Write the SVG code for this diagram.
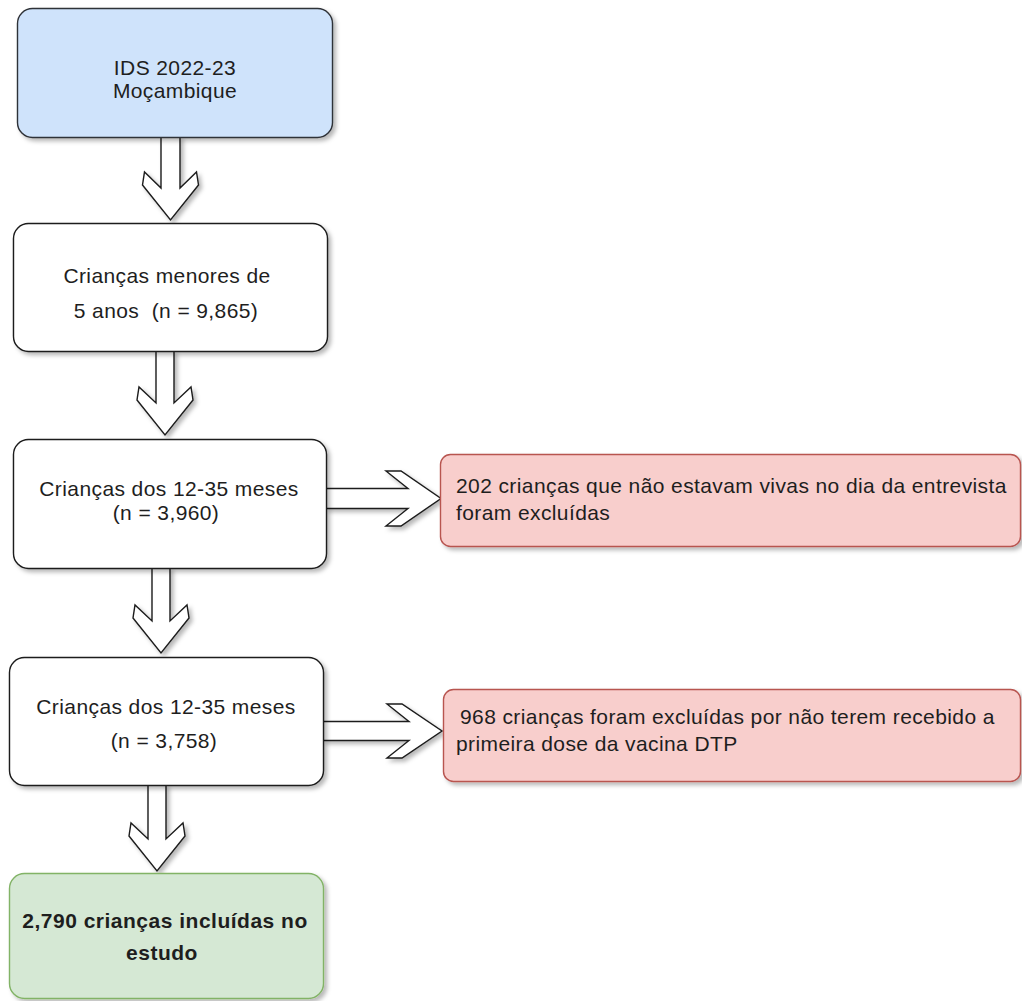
<svg xmlns="http://www.w3.org/2000/svg" width="1022" height="1001" viewBox="0 0 1022 1001">
  <defs>
    <filter id="sh" x="-10%" y="-10%" width="130%" height="140%">
      <feDropShadow dx="3" dy="3" stdDeviation="2" flood-color="#000" flood-opacity="0.28"/>
    </filter>
  </defs>
  <style>
    .box { stroke-width: 1.4; filter: url(#sh); }
    .white { fill: #ffffff; stroke: #1a1a1a; }
    .blue { fill: #cfe3fb; stroke: #2f3237; }
    .red { fill: #f8cecc; stroke: #b85450; }
    .green { fill: #d5e8d4; stroke: #82b366; }
    .arrow { fill: #ffffff; stroke: #1a1a1a; stroke-width: 1.4; stroke-linejoin: miter; filter: url(#sh); }
    text { font-family: "Liberation Sans", Arial, sans-serif; font-size: 21px; fill: #1e1e1e; letter-spacing: 0.4px; }
    .c { text-anchor: middle; }
    .b { font-weight: bold; letter-spacing: 0.5px; }
  </style>

  <g id="connectors">
    <path class="arrow" d="M161,137 V188 L144.5,172 L142.5,185 L170.5,220 L198.5,185 L196.5,172 L180,188 V137 Z"/>
    <path class="arrow" d="M156,351 V403 L139,387 L137,400 L165,435 L193,400 L191,387 L174,403 V351 Z"/>
    <path class="arrow" d="M152,568 V621 L135,605 L133,618 L161,653 L189,618 L187,605 L170,621 V568 Z"/>
    <path class="arrow" d="M148,785 V839 L131,823 L129,836 L157,871 L185,836 L183,823 L166,839 V785 Z"/>
    <path class="arrow" d="M326,488.5 H408 L386,471 H401 L441,498.5 L401,526 H386 L408,508.5 H326 Z"/>
    <path class="arrow" d="M323,721.5 H409 L387,704 H402 L442,731 L402,758 H387 L409,740.5 H323 Z"/>
  </g>

  <g id="node-ids">
    <rect class="box blue" x="17.5" y="8.5" width="315" height="129" rx="15" ry="15"/>
    <text class="c" x="175" y="75">IDS 2022-23</text>
    <text class="c" x="175" y="98">Moçambique</text>
  </g>

  <g id="node-menores5">
    <rect class="box white" x="13.5" y="223.5" width="314" height="128" rx="15" ry="15"/>
    <text class="c" x="167" y="283">Crianças menores de</text>
    <text class="c" x="166" y="318" xml:space="preserve">5 anos  (n = 9,865)</text>
  </g>

  <g id="node-1235a">
    <rect class="box white" x="13.5" y="439.5" width="313" height="129" rx="15" ry="15"/>
    <text class="c" x="169" y="496">Crianças dos 12-35 meses</text>
    <text class="c" x="166" y="520">(n = 3,960)</text>
  </g>

  <g id="node-excl1">
    <rect class="box red" x="440.5" y="454.5" width="580" height="92" rx="10" ry="10"/>
    <text x="456" y="493">202 crianças que não estavam vivas no dia da entrevista</text>
    <text x="456" y="520">foram excluídas</text>
  </g>

  <g id="node-1235b">
    <rect class="box white" x="9.5" y="657.5" width="314" height="128" rx="15" ry="15"/>
    <text class="c" x="166" y="714">Crianças dos 12-35 meses</text>
    <text class="c" x="164" y="748">(n = 3,758)</text>
  </g>

  <g id="node-excl2">
    <rect class="box red" x="443.5" y="689.5" width="577" height="92" rx="10" ry="10"/>
    <text x="460" y="724">968 crianças foram excluídas por não terem recebido a</text>
    <text x="456" y="751">primeira dose da vacina DTP</text>
  </g>

  <g id="node-incluidas">
    <rect class="box green" x="9.5" y="873.5" width="314" height="125" rx="15" ry="15"/>
    <text class="c b" x="165" y="928">2,790 crianças incluídas no</text>
    <text class="c b" x="162" y="960">estudo</text>
  </g>
</svg>
